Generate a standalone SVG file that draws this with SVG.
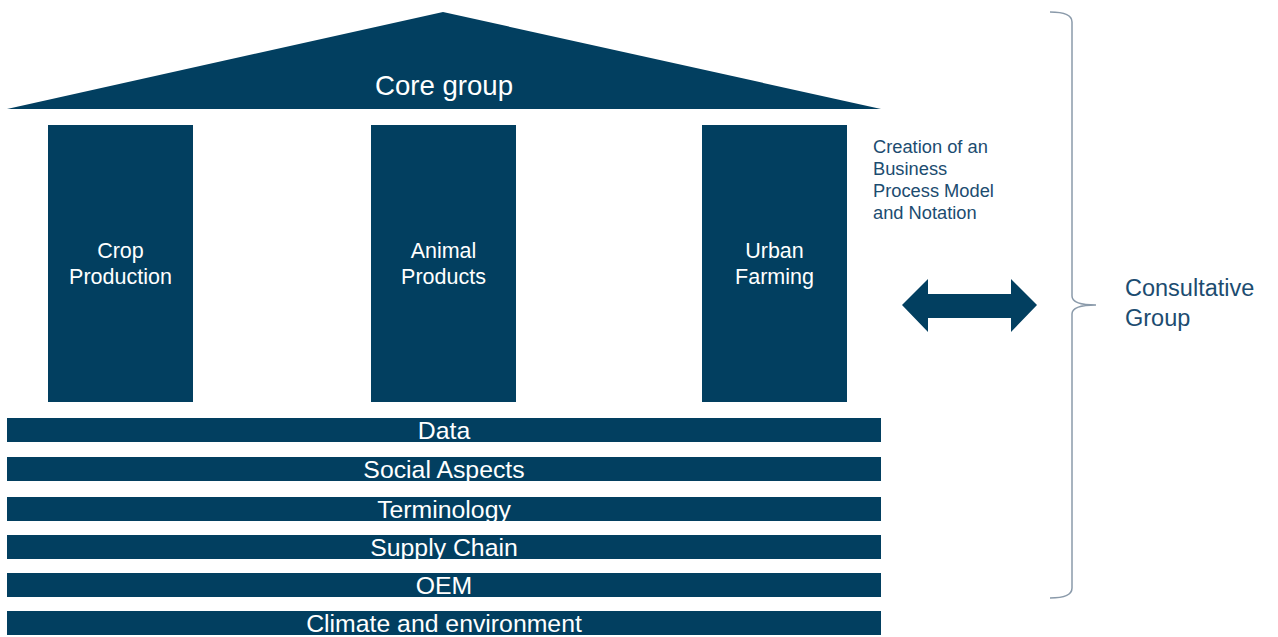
<svg xmlns="http://www.w3.org/2000/svg" width="1278" height="637" viewBox="0 0 1278 637">
<style>
.fill{fill:#023f60}
.w{fill:#ffffff;font-family:"Liberation Sans",Arial,sans-serif;text-anchor:middle}
.bar{font-size:24.8px}
.pil{font-size:21.5px}
.side{fill:#1c4c70;font-family:"Liberation Sans",Arial,sans-serif}
</style>
<rect width="1278" height="637" fill="#ffffff"/>
<g id="core">
<polygon class="fill" points="443,12 881,109 7,109"/>
<text class="w" x="444" y="95" font-size="27.6">Core group</text>
</g>
<g id="crop">
<rect class="fill" x="48" y="125" width="145" height="277"/>
<text class="w pil" x="120.5" y="258">Crop</text>
<text class="w pil" x="120.5" y="284">Production</text>
</g>
<g id="animal">
<rect class="fill" x="371" y="125" width="145" height="277"/>
<text class="w pil" x="443.5" y="258">Animal</text>
<text class="w pil" x="443.5" y="284">Products</text>
</g>
<g id="urban">
<rect class="fill" x="702" y="125" width="145" height="277"/>
<text class="w pil" x="774.5" y="258">Urban</text>
<text class="w pil" x="774.5" y="284">Farming</text>
</g>
<g id="data"><rect class="fill" x="7" y="418" width="874" height="24"/><text class="w bar" x="444" y="438.5">Data</text></g>
<g id="social"><rect class="fill" x="7" y="457" width="874" height="24"/><text class="w bar" x="444" y="477.5">Social Aspects</text></g>
<g id="terminology"><rect class="fill" x="7" y="497" width="874" height="24"/><text class="w bar" x="444" y="517.5">Terminology</text></g>
<g id="supply"><rect class="fill" x="7" y="535" width="874" height="24"/><text class="w bar" x="444" y="555.5">Supply Chain</text></g>
<g id="oem"><rect class="fill" x="7" y="573" width="874" height="24"/><text class="w bar" x="444" y="593.5">OEM</text></g>
<g id="climate"><rect class="fill" x="7" y="611" width="874" height="24"/><text class="w bar" x="444" y="631.5">Climate and environment</text></g>
<g id="note">
<text class="side" font-size="18.3" x="873" y="153">Creation of an</text>
<text class="side" font-size="18.3" x="873" y="175">Business</text>
<text class="side" font-size="18.3" x="873" y="197">Process Model</text>
<text class="side" font-size="18.3" x="873" y="219">and Notation</text>
</g>
<g id="connectors">
<polygon class="fill" points="902,305 928,279 928,294 1011,294 1011,279 1037,305 1011,332 1011,318 928,318 928,332"/>
<path d="M1050,12 Q1072,12 1072,22 L1072,296 Q1072,305 1096,305 Q1072,305 1072,314 L1072,588 Q1072,598 1050,598" fill="none" stroke="#8a9aaa" stroke-width="1.5"/>
</g>
<g id="consultative">
<text class="side" font-size="23.5" x="1125" y="296">Consultative</text>
<text class="side" font-size="23.5" x="1125" y="326">Group</text>
</g>
</svg>
